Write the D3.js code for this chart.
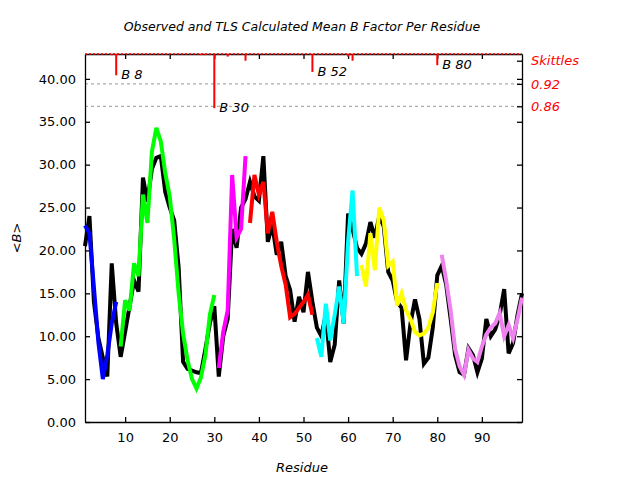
<!DOCTYPE html>
<html><head><meta charset="utf-8">
<script src="https://cdn.jsdelivr.net/npm/d3@7/dist/d3.min.js"></script>
<style>body{margin:0;background:#fff}</style>
</head><body>
<svg id="c" width="640" height="480"></svg>
<script>
// ---- data ----
const residues = d3.range(1, 100);
const observed = [20.5,24.0,14.0,9.8,7.5,5.3,18.5,11.5,7.6,10.5,
  13.5,16.5,15.2,28.5,25.7,29.5,30.8,31.0,26.8,25.0,
  23.5,18.0,7.0,6.2,6.0,5.8,5.7,8.5,11.5,13.5,
  5.3,10.0,12.0,22.5,20.3,25.0,26.0,28.0,26.3,25.8,
  31.0,21.0,23.0,19.5,21.0,17.0,15.4,11.7,14.6,12.8,
  17.5,14.0,11.0,10.0,12.5,7.0,9.0,16.5,11.5,24.3,
  22.5,20.3,19.6,20.8,23.3,21.5,24.0,22.8,17.5,16.5,
  14.0,13.3,7.2,11.5,14.3,12.0,6.8,7.5,11.0,17.1,
  18.2,16.0,12.0,7.8,5.8,5.5,8.6,7.8,5.8,7.4,
  12.0,10.0,10.8,12.5,15.5,8.0,9.2,12.5,15.0];
const tlsStarts = [1, 9, 31, 38, 53, 63, 81];
const tlsColors = ["#0000ff", "#00ff00", "#ff00ff", "#ff0000", "#00ffff", "#ffff00", "#ee82ee"];
const tlsBlue    = [22.9,22.0,15.7,9.3,5.0,7.8,11.5,14.0];
const tlsGreen   = [8.8,14.2,13.0,18.5,17.0,26.5,23.2,31.5,34.3,32.7,29.0,26.3,21.3,15.0,10.3,7.2,5.0,3.9,5.2,7.8,12.5,14.8];
const tlsMagenta = [6.3,10.5,13.0,28.8,21.5,22.5,31.0];
const tlsRed     = [23.2,28.8,26.5,28.0,22.0,24.5,21.0,18.2,16.0,12.2,12.6,13.3,14.0,14.8,12.5];
const tlsCyan    = [9.8,7.6,13.8,9.5,12.5,15.8,11.5,21.0,27.0,17.0];
const tlsYellow  = [18.3,15.8,22.0,17.7,25.0,23.5,18.2,18.7,13.6,15.0,13.0,12.0,10.5,10.1,10.3,11.0,12.8,16.2];
const tlsViolet  = [19.5,16.5,13.0,8.5,6.5,5.5,8.4,7.4,7.0,8.8,10.2,11.0,11.5,12.7,10.0,11.3,9.8,12.0,14.5];
const tlsValues = [tlsBlue, tlsGreen, tlsMagenta, tlsRed, tlsCyan, tlsYellow, tlsViolet];

const skittleRes = [7, 8, 27, 28, 29, 30, 33, 37, 52, 60, 61, 80];
const skittleVal = [0.997, 0.943, 0.997, 0.997, 0.997, 0.855, 0.993, 0.982, 0.952, 0.993, 0.982, 0.970];
const skittleLabelRes = [8, 30, 52, 80];
const skittleTicks = [0.982, 0.92, 0.86];
const skittleTickLabels = ["Skittles", "0.92", "0.86"];
const yTicks = [0, 5, 10, 15, 20, 25, 30, 35, 40];
const xTicks = [10, 20, 30, 40, 50, 60, 70, 80, 90];

// ---- chart ----
const svg = d3.select("#c");
const L = 85, R = 522, T = 54, B = 422;
const x = d3.scaleLinear().domain([1, 99]).range([L, R]);
const y = d3.scaleLinear().domain([0, 42.9]).range([B, T]);
const ys = d3.scaleLinear().domain([1.0, 0.86]).range([T, 106.3]);
const font = "DejaVu Sans, Verdana, sans-serif";

// gray dashed reference lines
svg.selectAll("line.ref").data([0.92, 0.86]).enter().append("line")
  .attr("x1", L).attr("x2", R).attr("y1", d => ys(d)).attr("y2", d => ys(d))
  .attr("stroke", "#999").attr("stroke-width", 1).attr("stroke-dasharray", "3,3");

// axes
function styleAxis(g) {
  g.selectAll("path,line").attr("stroke", "#000").attr("stroke-width", 1.3);
  g.selectAll("text").attr("font-family", font).attr("font-size", 13).attr("fill", "#000");
}
svg.append("g").attr("transform", `translate(${L},0)`)
  .call(d3.axisLeft(y).tickValues(yTicks).tickFormat(d3.format(".2f")).tickSizeInner(-5).tickSizeOuter(0).tickPadding(9))
  .call(styleAxis);
svg.append("g").attr("transform", `translate(0,${B})`)
  .call(d3.axisBottom(x).tickValues(xTicks).tickFormat(d3.format("d")).tickSizeInner(-5).tickSizeOuter(0).tickPadding(11))
  .call(styleAxis);
svg.append("g").attr("transform", `translate(0,${T})`)
  .call(d3.axisTop(x).tickValues(xTicks).tickFormat("").tickSizeInner(-5).tickSizeOuter(0))
  .call(styleAxis);
svg.append("g").attr("transform", `translate(${R},0)`)
  .call(d3.axisRight(y).tickValues(yTicks).tickFormat("").tickSizeInner(-5).tickSizeOuter(0))
  .call(styleAxis);
const sk = svg.append("g").attr("transform", `translate(${R},0)`)
  .call(d3.axisRight(ys).tickValues(skittleTicks).tickFormat((d, i) => skittleTickLabels[i]).tickSizeInner(-5).tickSizeOuter(0).tickPadding(9))
  .call(styleAxis);
sk.select(".domain").remove();
sk.selectAll("text").attr("fill", "#ff0000").attr("font-style", "italic");

// lines
const line = d3.line().x(d => x(d.r)).y(d => y(d.v));
svg.append("path").datum(residues.map((r, i) => ({r, v: observed[i]})))
  .attr("d", line).attr("fill", "none").attr("stroke", "#000").attr("stroke-width", 4);
tlsValues.forEach((vals, gi) => {
  svg.append("path").datum(vals.map((v, i) => ({r: tlsStarts[gi] + i, v})))
    .attr("d", line).attr("fill", "none").attr("stroke", tlsColors[gi]).attr("stroke-width", 4);
});

// skittles top line and spikes
svg.append("line").attr("x1", L).attr("x2", R).attr("y1", ys(1.0)).attr("y2", ys(1.0))
  .attr("stroke", "#ff0000").attr("stroke-width", 1.5).attr("stroke-dasharray", "2,2");
svg.selectAll("line.spike").data(skittleRes).enter().append("line")
  .attr("x1", d => x(d)).attr("x2", d => x(d))
  .attr("y1", ys(1.0)).attr("y2", (d, i) => ys(skittleVal[i]))
  .attr("stroke", "#ff0000").attr("stroke-width", 2);
svg.selectAll("text.spl").data(skittleLabelRes).enter().append("text")
  .attr("x", d => x(d) + 5)
  .attr("y", d => ys(skittleVal[skittleRes.indexOf(d)]) + 4)
  .attr("font-family", font).attr("font-size", 13).attr("font-style", "italic")
  .text(d => "B " + d);

// titles
svg.append("text").attr("x", 302).attr("y", 31).attr("text-anchor", "middle")
  .attr("font-family", font).attr("font-size", 12.5).attr("font-style", "italic")
  .text("Observed and TLS Calculated Mean B Factor Per Residue");
svg.append("text").attr("x", 302).attr("y", 472).attr("text-anchor", "middle")
  .attr("font-family", font).attr("font-size", 13).attr("font-style", "italic")
  .text("Residue");
svg.append("text").attr("transform", "translate(21,238) rotate(-90)").attr("text-anchor", "middle")
  .attr("font-family", font).attr("font-size", 13).attr("font-style", "italic")
  .text("<B>");
</script>
</body></html>
